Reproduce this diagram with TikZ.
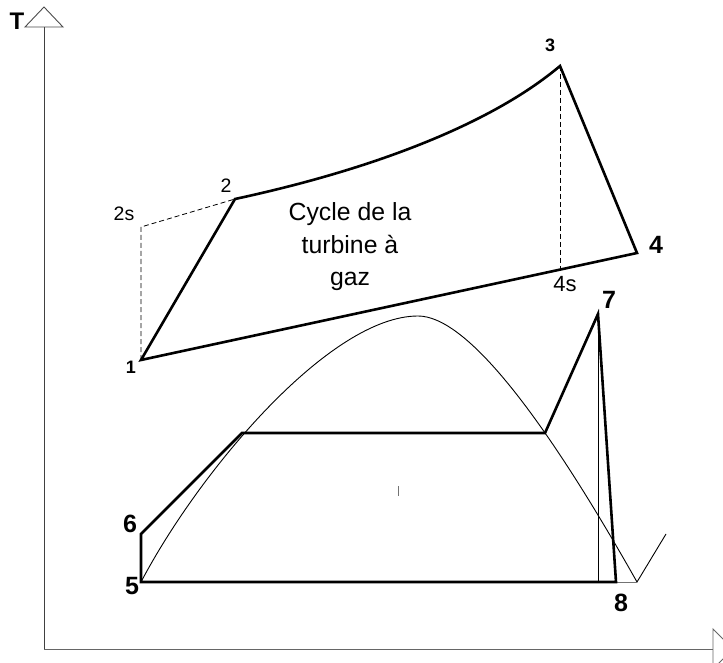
\documentclass[tikz,border=0pt]{standalone}
\usepackage{fontspec}
\setmainfont{Liberation Sans}
\begin{document}
\begin{tikzpicture}[x=1pt,y=-1pt,
  thick line/.style={line width=2.6pt,line join=miter},
  thin line/.style={line width=0.9pt},
  dash line/.style={line width=0.8pt,dash pattern=on 5pt off 3pt},
  lbl/.style={inner sep=0pt,font=\fontsize{#1}{#1}\selectfont},
  blbl/.style={inner sep=0pt,font=\fontsize{#1}{#1}\selectfont\bfseries}]
\useasboundingbox (0,0) rectangle (723,663);
\clip (0,0) rectangle (723,663);
% axes
\coordinate (O) at (44,649);
\coordinate (Ytop) at (44,27);
\coordinate (Xend) at (713,649);
\draw[thin line,black!75] (O) -- (Ytop);
\draw[thin line,black!70,fill=white] (25,27) -- (44,7) -- (63,27) -- cycle;
\draw[thin line,black!60] (O) -- (Xend);
\draw[thin line,black!60,fill=white] (713,629) -- (733,649) -- (713,669) -- cycle;
\node[blbl=24] (T) at (17,21) {T};
% gas turbine cycle
\coordinate (p1) at (141,360);
\coordinate (p2s) at (141,227);
\coordinate (p2) at (235,199);
\coordinate (p3) at (560,66);
\coordinate (p4) at (637,253);
\coordinate (p4s) at (560,269);
\draw[dash line] (p1) -- (p2s) -- (p2);
\draw[dash line] (p3) -- (p4s);
\draw[thick line] (p1) -- (p2) .. controls (370,170) and (490,125) .. (p3) -- (p4) -- cycle;
\node[lbl=19.5] (l2s) at (124,214) {2s};
\node[lbl=19.5] (l2) at (226,186) {2};
\node[blbl=18] (l1) at (131,367) {1};
\node[blbl=18] (l3) at (550,45) {3};
\node[blbl=25] (l4) at (656,245) {4};
\node[lbl=22] (l4s) at (565,284) {4s};
\node[align=center,inner sep=0pt,font=\fontsize{24.8}{32.5}\selectfont] (title) at (350,247) {Cycle de la\\turbine à\\gaz};
% saturation dome
\coordinate (p5) at (141,582);
\coordinate (top) at (418,316);
\coordinate (V) at (637,582);
\coordinate (Vend) at (666,534);
\draw[thin line] (p5) .. controls (200,470) and (330,316) .. (top)
  .. controls (465,316) and (540,410) .. (V) -- (Vend);
% Rankine cycle
\coordinate (p6) at (141,534);
\coordinate (a) at (242,433);
\coordinate (b) at (545,433);
\coordinate (p7) at (598,314);
\coordinate (p8) at (616,582);
\coordinate (p7b) at (598,582);
\draw[thin line,black!55] (p8) -- (V);
\draw[thin line] (p7) -- (p7b);
\draw[thick line] (p5) -- (p6) -- (a) -- (b) -- (p7) -- (p8) -- cycle;
\node[blbl=25] (l6) at (130,524) {6};
\node[blbl=25] (l5) at (132,586) {5};
\node[blbl=25] (l7) at (609,300) {7};
\node[blbl=25] (l8) at (621,603) {8};
% small tick
\coordinate (t1) at (398,486);
\coordinate (t2) at (398,496);
\draw[line width=1pt,black!55] (t1) -- (t2);
\end{tikzpicture}
\end{document}
